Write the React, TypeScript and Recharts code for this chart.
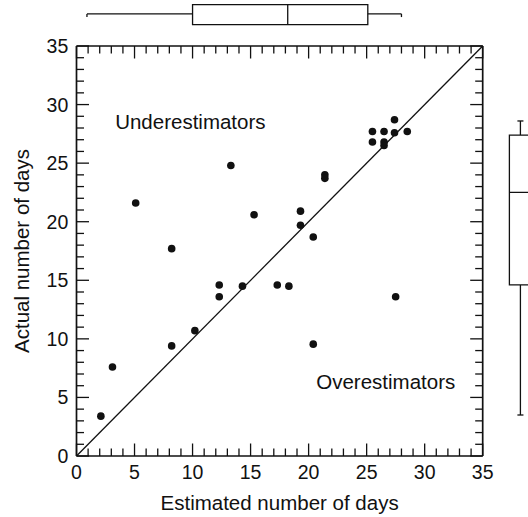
import React from 'react';
import {
  ScatterChart,
  Scatter,
  XAxis,
  YAxis,
  ReferenceLine,
  ReferenceArea,
  ReferenceDot,
} from 'recharts';

// estimated vs actual days, one entry per person
const estimatedDays = [2.1, 3.1, 5.1, 8.2, 8.2, 10.2, 12.3, 12.3, 13.3, 14.3, 15.3, 17.3, 18.3, 19.3, 19.3, 20.4, 20.4, 21.4, 21.4, 25.5, 25.5, 26.5, 26.5, 26.5, 27.4, 27.4, 27.5, 28.5];
const actualDays = [3.4, 7.6, 21.6, 17.7, 9.4, 10.7, 14.6, 13.6, 24.8, 14.5, 20.6, 14.6, 14.5, 20.9, 19.7, 18.7, 9.55, 24.0, 23.7, 27.7, 26.8, 27.7, 26.8, 26.5, 28.7, 27.6, 13.6, 27.7];

// box plot summaries: whisker low, q1, median, q3, whisker high
const estimatedBox = [0.9, 10, 18.2, 25.1, 28];
const actualBox = [3.5, 14.6, 22.5, 27.4, 28.6];

const axisTicks = Array.from({ length: 36 }, (_, i) => i);
const labelTicks = [0, 5, 10, 15, 20, 25, 30, 35];

const INK = '#111';
const FONT = '"Liberation Sans", Arial, Helvetica, sans-serif';
const MAJOR = 12.5;
const MINOR = 7.5;

// lanes outside the plot area (data units) for the marginal box plots
const TOP_LANE = { lo: 36.82, hi: 38.53, mid: 37.74, cap: 37.47 };
const RIGHT_LANE = { lo: 37.3, hi: 41, mid: 38.25, capHalf: 0.26 };

const points = estimatedDays.map((e, i) => ({ est: e, act: actualDays[i] }));

const tickLen = (v: number) => (v % 5 === 0 ? MAJOR : MINOR);

// axis tick labels only; the tick marks are drawn by reference lines below
const BottomLabel = (props: any) => (
  <text x={props.x} y={props.y + 23} textAnchor="middle" fontSize={19.5} fontFamily={FONT} fill={INK}>
    {props.payload.value}
  </text>
);
const LeftLabel = (props: any) => (
  <text x={props.x - 8.2} y={props.y + 7} textAnchor="end" fontSize={19.5} fontFamily={FONT} fill={INK}>
    {props.payload.value}
  </text>
);

// inward tick marks at both ends of a full-height / full-width reference line
const xTickShape = (v: number) => (p: any) => {
  const top = Math.min(p.y1, p.y2);
  const bot = Math.max(p.y1, p.y2);
  const len = tickLen(v);
  return (
    <g>
      <line x1={p.x1} y1={bot} x2={p.x1} y2={bot - len} stroke={INK} strokeWidth={1.3} />
      <line x1={p.x1} y1={top} x2={p.x1} y2={top + len} stroke={INK} strokeWidth={1.3} />
    </g>
  );
};
const yTickShape = (v: number) => (p: any) => {
  const left = Math.min(p.x1, p.x2);
  const right = Math.max(p.x1, p.x2);
  const len = tickLen(v);
  return (
    <g>
      <line x1={left} y1={p.y1} x2={left + len} y2={p.y1} stroke={INK} strokeWidth={1.3} />
      <line x1={right} y1={p.y1} x2={right - len} y2={p.y1} stroke={INK} strokeWidth={1.3} />
    </g>
  );
};

const note = (text: string) => (p: any) => (
  <text x={p.viewBox.x} y={p.viewBox.y} fontSize={20.5} fontFamily={FONT} fill={INK}>
    {text}
  </text>
);

const boxStroke = { stroke: INK, strokeWidth: 1.3 };
const axisLine = { stroke: INK, strokeWidth: 1.7 };

export default function App() {
  const [xLo, xQ1, xMed, xQ3, xHi] = estimatedBox;
  const [yLo, yQ1, yMed, yQ3, yHi] = actualBox;
  return (
    <div style={{ position: 'absolute', left: 0, top: 0, width: 528, height: 517, overflow: 'hidden', background: '#fff' }}>
      <ScatterChart width={528} height={517} margin={{ top: 46, right: 45.3, bottom: 0, left: 0 }}>
        <XAxis
          xAxisId="b"
          dataKey="est"
          type="number"
          domain={[0, 35]}
          ticks={labelTicks}
          interval={0}
          allowDataOverflow
          height={61}
          tickSize={0}
          tickMargin={0}
          tickLine={false}
          axisLine={axisLine}
          tick={BottomLabel}
          label={{ value: 'Estimated number of days', position: 'insideBottom', offset: 7, fontSize: 20.5, fontFamily: FONT, fill: INK }}
        />
        <XAxis
          xAxisId="t"
          orientation="top"
          type="number"
          domain={[0, 35]}
          allowDataOverflow
          height={1}
          mirror
          tick={false}
          tickLine={false}
          axisLine={axisLine}
        />
        <YAxis
          yAxisId="l"
          dataKey="act"
          type="number"
          domain={[0, 35]}
          ticks={labelTicks}
          interval={0}
          allowDataOverflow
          width={76.5}
          tickSize={0}
          tickMargin={0}
          tickLine={false}
          axisLine={axisLine}
          tick={LeftLabel}
          label={{ value: 'Actual number of days', angle: -90, position: 'insideLeft', offset: 22, fontSize: 20.5, fontFamily: FONT, fill: INK, style: { textAnchor: 'middle' } }}
        />
        <YAxis
          yAxisId="r"
          orientation="right"
          type="number"
          domain={[0, 35]}
          allowDataOverflow
          width={1}
          mirror
          tick={false}
          tickLine={false}
          axisLine={axisLine}
        />

        {axisTicks.map((v) => (
          <ReferenceLine key={`xt${v}`} xAxisId="b" yAxisId="l" x={v} stroke="none" shape={xTickShape(v)} />
        ))}
        {axisTicks.map((v) => (
          <ReferenceLine key={`yt${v}`} xAxisId="b" yAxisId="l" y={v} stroke="none" shape={yTickShape(v)} />
        ))}

        <ReferenceLine xAxisId="b" yAxisId="l" segment={[{ x: 0, y: 0 }, { x: 35, y: 35 }]} stroke={INK} strokeWidth={1.3} />

        <Scatter
          xAxisId="b"
          yAxisId="l"
          data={points}
          isAnimationActive={false}
          shape={(p: any) => <circle cx={p.cx} cy={p.cy} r={3.8} fill={INK} />}
        />

        <ReferenceDot xAxisId="b" yAxisId="l" x={3.33} y={27.94} r={0} label={{ content: note('Underestimators') }} />
        <ReferenceDot xAxisId="b" yAxisId="l" x={20.66} y={5.71} r={0} label={{ content: note('Overestimators') }} />

        {/* box plot of estimates, above the plot */}
        <ReferenceArea xAxisId="b" yAxisId="l" x1={xQ1} x2={xQ3} y1={TOP_LANE.lo} y2={TOP_LANE.hi} fill="none" {...boxStroke} ifOverflow="visible" />
        <ReferenceLine xAxisId="b" yAxisId="l" segment={[{ x: xMed, y: TOP_LANE.lo }, { x: xMed, y: TOP_LANE.hi }]} {...boxStroke} ifOverflow="visible" />
        <ReferenceLine xAxisId="b" yAxisId="l" segment={[{ x: xLo, y: TOP_LANE.mid }, { x: xQ1, y: TOP_LANE.mid }]} {...boxStroke} ifOverflow="visible" />
        <ReferenceLine xAxisId="b" yAxisId="l" segment={[{ x: xQ3, y: TOP_LANE.mid }, { x: xHi, y: TOP_LANE.mid }]} {...boxStroke} ifOverflow="visible" />
        <ReferenceLine xAxisId="b" yAxisId="l" segment={[{ x: xLo, y: TOP_LANE.mid }, { x: xLo, y: TOP_LANE.cap }]} {...boxStroke} ifOverflow="visible" />
        <ReferenceLine xAxisId="b" yAxisId="l" segment={[{ x: xHi, y: TOP_LANE.mid }, { x: xHi, y: TOP_LANE.cap }]} {...boxStroke} ifOverflow="visible" />

        {/* box plot of actuals, right of the plot */}
        <ReferenceArea xAxisId="b" yAxisId="l" x1={RIGHT_LANE.lo} x2={RIGHT_LANE.hi} y1={yQ1} y2={yQ3} fill="none" {...boxStroke} ifOverflow="visible" />
        <ReferenceLine xAxisId="b" yAxisId="l" segment={[{ x: RIGHT_LANE.lo, y: yMed }, { x: RIGHT_LANE.hi, y: yMed }]} {...boxStroke} ifOverflow="visible" />
        <ReferenceLine xAxisId="b" yAxisId="l" segment={[{ x: RIGHT_LANE.mid, y: yLo }, { x: RIGHT_LANE.mid, y: yQ1 }]} {...boxStroke} ifOverflow="visible" />
        <ReferenceLine xAxisId="b" yAxisId="l" segment={[{ x: RIGHT_LANE.mid, y: yQ3 }, { x: RIGHT_LANE.mid, y: yHi }]} {...boxStroke} ifOverflow="visible" />
        <ReferenceLine xAxisId="b" yAxisId="l" segment={[{ x: RIGHT_LANE.mid - RIGHT_LANE.capHalf, y: yLo }, { x: RIGHT_LANE.mid + RIGHT_LANE.capHalf, y: yLo }]} {...boxStroke} ifOverflow="visible" />
        <ReferenceLine xAxisId="b" yAxisId="l" segment={[{ x: RIGHT_LANE.mid - RIGHT_LANE.capHalf, y: yHi }, { x: RIGHT_LANE.mid + RIGHT_LANE.capHalf, y: yHi }]} {...boxStroke} ifOverflow="visible" />
      </ScatterChart>
    </div>
  );
}
